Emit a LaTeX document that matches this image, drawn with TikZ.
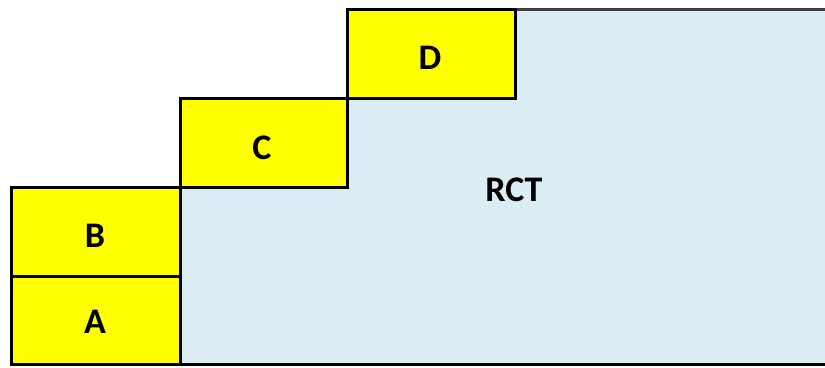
\documentclass[tikz,border=0pt]{standalone}
\usepackage{fontspec}
\setmainfont{Carlito}
\definecolor{rctblue}{HTML}{DAEDF3}
\definecolor{boxyellow}{HTML}{FFFF00}
\begin{document}
\begin{tikzpicture}[x=1pt,y=-1pt,
  lab/.style={font=\bfseries\fontsize{36}{42}\selectfont, text=black},
  ybox/.style={fill=boxyellow, draw=black, line width=3pt}]
\useasboundingbox (0,0) rectangle (825,367);
% RCT region
\fill[rctblue] (180,364) -- (180,187) -- (347,187) -- (347,98) -- (515,98) -- (515,9) -- (825,9) -- (825,364) -- cycle;
\draw[line width=3pt, black!75] (515,9) -- (825,9);
\draw[line width=3pt, black] (180,364) -- (825,364);
% boxes
\draw[ybox] (11,276) rectangle (180,364);
\draw[ybox] (11,187) rectangle (180,276);
\draw[ybox] (180,98) rectangle (347,187);
\draw[ybox] (347,9) rectangle (515,98);
\node[lab] (A) at (95,322) {A};
\node[lab] (B) at (95,236) {B};
\node[lab] (C) at (262,148) {C};
\node[lab] (D) at (430,58) {D};
\node[lab] (RCT) at (514,190) {RCT};
\end{tikzpicture}
\end{document}
